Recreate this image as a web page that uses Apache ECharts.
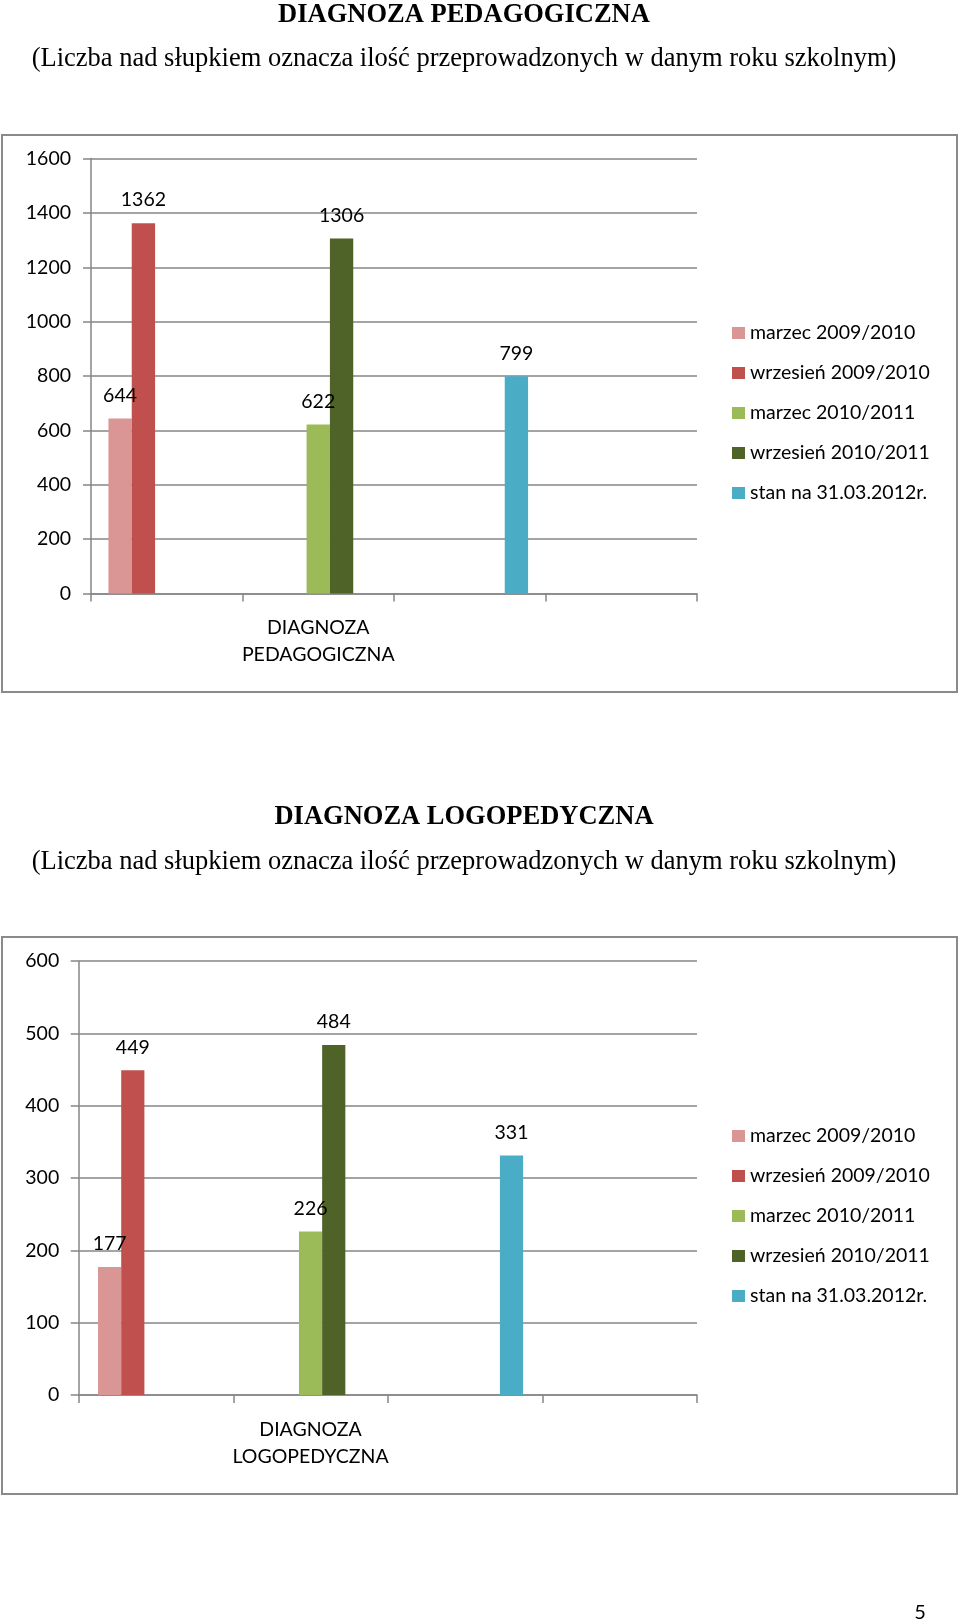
<!DOCTYPE html>
<html>
<head>
<meta charset="utf-8">
<script src="https://cdn.jsdelivr.net/npm/echarts@6/dist/echarts.min.js"></script>
<style>
html,body{margin:0;padding:0;background:#fff;}
#c{width:960px;height:1623px;}
</style>
</head>
<body>
<div id="c"></div>
<script>
// ---- data ----
const seriesNames = ['marzec 2009/2010', 'wrzesień 2009/2010', 'marzec 2010/2011', 'wrzesień 2010/2011', 'stan na 31.03.2012r.'];
const seriesColors = ['#D99694', '#C0504D', '#9BBB59', '#4F6228', '#4BACC6'];

const categoriesPed = ['', 'DIAGNOZA\nPEDAGOGICZNA', '', ''];
const pedMarzec0910 = [644, null, null, null];
const pedWrzesien0910 = [1362, null, null, null];
const pedMarzec1011 = [null, 622, null, null];
const pedWrzesien1011 = [null, 1306, null, null];
const pedStan2012 = [null, null, 799, null];

const categoriesLog = ['', 'DIAGNOZA\nLOGOPEDYCZNA', '', ''];
const logMarzec0910 = [177, null, null, null];
const logWrzesien0910 = [449, null, null, null];
const logMarzec1011 = [null, 226, null, null];
const logWrzesien1011 = [null, 484, null, null];
const logStan2012 = [null, null, 331, null];

const titlePed = 'DIAGNOZA PEDAGOGICZNA';
const titleLog = 'DIAGNOZA LOGOPEDYCZNA';
const subtitle = '(Liczba nad słupkiem oznacza ilość przeprowadzonych w danym roku szkolnym)';
const pageNumber = '5';

// ---- chart ----
const chart = echarts.init(document.getElementById('c'));
const GRID = '#868686';
const SANS = 'Lato, "Open Sans", sans-serif';
const SERIF = '"Liberation Serif", "DejaVu Serif", serif';

function yAxis(gridIndex, max, interval, margin) {
  return {
    type: 'value', gridIndex, min: 0, max, interval,
    axisLine: {show: true, lineStyle: {color: GRID, width: 1.5}},
    axisTick: {show: true, length: 8, lineStyle: {color: GRID, width: 1.5}},
    axisLabel: {color: '#000', fontSize: 19.5, fontFamily: SANS, margin, formatter: v => String(v)},
    splitLine: {show: true, lineStyle: {color: GRID, width: 1.5}}
  };
}
function xAxis(gridIndex, data) {
  return {
    type: 'category', gridIndex, data, boundaryGap: true,
    axisLine: {show: true, lineStyle: {color: GRID, width: 1.5}},
    axisTick: {show: true, length: 8, interval: 0, lineStyle: {color: GRID, width: 1.5}},
    axisLabel: {color: '#000', fontSize: 19.5, fontFamily: SANS, margin: 21, lineHeight: 27, interval: 0}
  };
}
function bars(axisIndex, arrays, catGap) {
  return arrays.map((arr, i) => ({
    type: 'bar', name: seriesNames[i], xAxisIndex: axisIndex, yAxisIndex: axisIndex,
    data: arr, barGap: '0%', barCategoryGap: catGap,
    itemStyle: {color: seriesColors[i]},
    label: {show: true, position: 'top', distance: 13, color: '#000', fontSize: 19.5, fontFamily: SANS},
    animation: false
  }));
}
function legend(top) {
  return {
    orient: 'vertical', left: 732, top, padding: 0, data: seriesNames,
    icon: 'rect', itemWidth: 13, itemHeight: 12, itemGap: 20,
    textStyle: {color: '#000', fontSize: 19.5, fontFamily: SANS, lineHeight: 20},
    selectedMode: false
  };
}
function txt(x, y, text, font) {
  return {type: 'text', x, y, style: {text, font, fill: '#000', textAlign: 'center', textVerticalAlign: 'middle'}};
}
function box(y1, y2) {
  return {type: 'rect', shape: {x: 2, y: y1, width: 955, height: y2 - y1},
    style: {fill: null, stroke: '#8a8a8a', lineWidth: 2}, z: -1};
}

chart.setOption({
  animation: false,
  color: seriesColors,
  grid: [
    {left: 91, top: 158.5, width: 606, height: 435},
    {left: 78.7, top: 961, width: 618.3, height: 434}
  ],
  xAxis: [xAxis(0, categoriesPed), xAxis(1, categoriesLog)],
  yAxis: [yAxis(0, 1600, 200, 20), yAxis(1, 600, 100, 19.5)],
  legend: [legend(323), legend(1126)],
  series: [
    ...bars(0, [pedMarzec0910, pedWrzesien0910, pedMarzec1011, pedWrzesien1011, pedStan2012], '23%'),
    ...bars(1, [logMarzec0910, logWrzesien0910, logMarzec1011, logWrzesien1011, logStan2012], '25%')
  ],
  graphic: [
    box(135, 692),
    box(937, 1494),
    txt(464, 15, titlePed, 'bold 26.5px ' + SERIF),
    txt(464, 59, subtitle, '26.5px ' + SERIF),
    txt(464, 817, titleLog, 'bold 26.5px ' + SERIF),
    txt(464, 862, subtitle, '26.5px ' + SERIF),
    txt(920, 1613, pageNumber, '20px ' + SANS)
  ]
});
</script>
</body>
</html>
